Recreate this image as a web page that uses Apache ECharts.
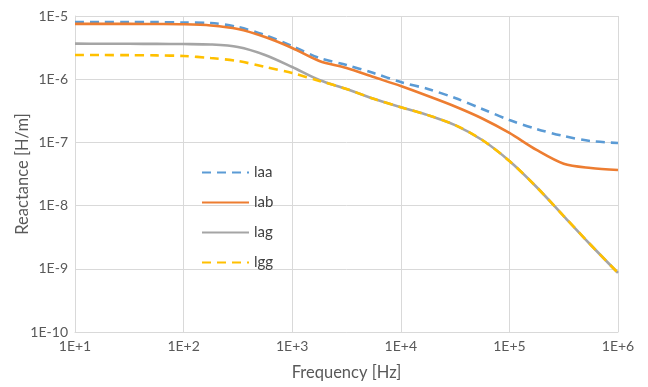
<!DOCTYPE html>
<html>
<head>
<meta charset="utf-8">
<script src="https://cdn.jsdelivr.net/npm/echarts@6/dist/echarts.min.js"></script>
<style>
html,body{margin:0;padding:0;background:#fff;}
#chart{width:648px;height:387px;}
</style>
</head>
<body>
<div id="chart"></div>
<script>
// Frequencies [Hz] (quarter-decade steps)
var freq = [10, 17.8, 31.6, 56.2, 100, 178, 316, 562, 1000, 1778, 3162, 5623, 10000, 17780, 31620, 56230, 100000, 177800, 316200, 562300, 1000000];
var seriesNames = ['laa', 'lab', 'lag', 'lgg'];
var laa = [8.04e-6, 8.04e-6, 8.04e-6, 8.0e-6, 7.89e-6, 7.75e-6, 6.7e-6, 5.0e-6, 3.35e-6, 2.16e-6, 1.68e-6, 1.25e-6, 9.0e-7, 7.0e-7, 5.04e-7, 3.38e-7, 2.26e-7, 1.63e-7, 1.26e-7, 1.05e-7, 9.8e-8];
var lab = [7.5e-6, 7.5e-6, 7.5e-6, 7.47e-6, 7.4e-6, 7.08e-6, 6.23e-6, 4.65e-6, 3.12e-6, 1.94e-6, 1.5e-6, 1.08e-6, 7.8e-7, 5.42e-7, 3.7e-7, 2.39e-7, 1.41e-7, 7.6e-8, 4.6e-8, 3.94e-8, 3.66e-8];
var lag = [3.65e-6, 3.64e-6, 3.63e-6, 3.62e-6, 3.6e-6, 3.54e-6, 3.23e-6, 2.42e-6, 1.56e-6, 9.7e-7, 7.0e-7, 4.9e-7, 3.6e-7, 2.7e-7, 1.88e-7, 1.09e-7, 5.08e-8, 1.97e-8, 6.84e-9, 2.38e-9, 8.6e-10];
var lgg = [2.42e-6, 2.41e-6, 2.4e-6, 2.38e-6, 2.33e-6, 2.16e-6, 1.94e-6, 1.56e-6, 1.25e-6, 9.4e-7, 7.0e-7, 4.9e-7, 3.6e-7, 2.7e-7, 1.88e-7, 1.09e-7, 5.08e-8, 1.97e-8, 6.84e-9, 2.38e-9, 8.6e-10];
var xTicks = ['1E+1', '1E+2', '1E+3', '1E+4', '1E+5', '1E+6'];
var yTicks = ['1E-10', '1E-9', '1E-8', '1E-7', '1E-6', '1E-5'];
var xTitle = 'Frequency [Hz]';
var yTitle = 'Reactance [H/m]';

function pairs(arr){ return freq.map(function(f,i){ return [f, arr[i]]; }); }
function expOf(v){ return Math.round(Math.log(v)/Math.LN10); }

var font = 'Lato, "Open Sans", sans-serif';
var chart = echarts.init(document.getElementById('chart'), null, {renderer:'canvas'});
var styles = [
  {color:'#5B9BD5', type:[9,6]},
  {color:'#ED7D31', type:'solid'},
  {color:'#A5A5A5', type:'solid'},
  {color:'#FFC000', type:[9,6]}
];
var datas = [laa, lab, lag, lgg];
chart.setOption({
  animation:false,
  grid:{left:75, right:30, top:16, bottom:55, outerBoundsMode:'none'},
  legend:{
    orient:'vertical', left:196, top:160,
    itemWidth:47, itemHeight:14, itemGap:15,
    itemStyle:{opacity:0},
    textStyle:{fontFamily:font, fontSize:15, color:'#404040'},
    data:seriesNames
  },
  xAxis:{
    type:'log', logBase:10, min:10, max:1000000,
    name:xTitle, nameLocation:'middle', nameGap:32,
    nameTextStyle:{fontFamily:font, fontSize:16.5, color:'#595959'},
    axisLine:{show:true, lineStyle:{color:'#D9D9D9'}},
    axisTick:{show:false},
    axisLabel:{fontFamily:font, fontSize:14, color:'#595959', margin:7,
      formatter:function(v){ var e=expOf(v); return xTicks[e-1]; }},
    splitLine:{show:true, lineStyle:{color:'#D9D9D9', width:1}},
    minorTick:{show:false}
  },
  yAxis:{
    type:'log', logBase:10, min:1e-10, max:1e-5,
    name:yTitle, nameLocation:'middle', nameGap:44, nameMoveOverlap:false,
    nameTextStyle:{fontFamily:font, fontSize:16.5, color:'#595959'},
    axisLine:{show:true, lineStyle:{color:'#D9D9D9'}},
    axisTick:{show:false},
    axisLabel:{fontFamily:font, fontSize:14, color:'#595959', margin:7,
      formatter:function(v){ var e=expOf(v); return yTicks[e+10]; }},
    splitLine:{show:true, lineStyle:{color:'#D9D9D9', width:1}}
  },
  series: seriesNames.map(function(n,i){
    return {
      name:n, type:'line', data:pairs(datas[i]), smooth:0.3,
      symbol:'none', showSymbol:false,
      itemStyle:{color:styles[i].color},
      lineStyle:{color:styles[i].color, width:2.6, type:styles[i].type, cap:'butt'},
      z:2+i
    };
  })
});
</script>
</body>
</html>
